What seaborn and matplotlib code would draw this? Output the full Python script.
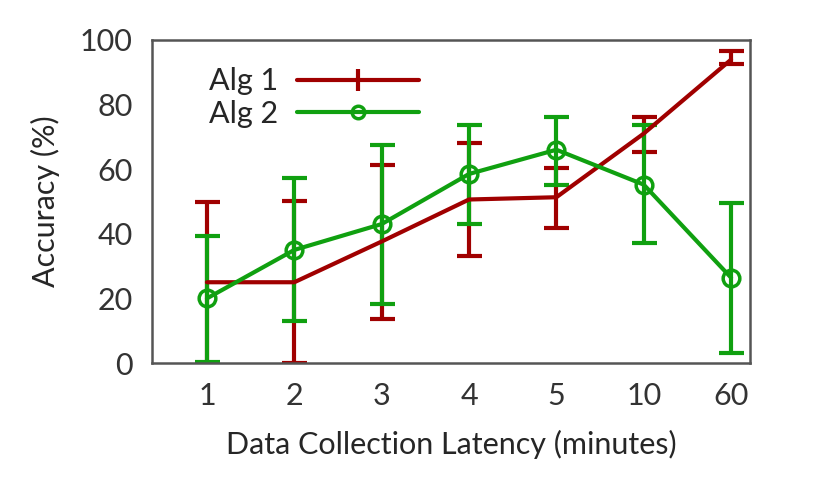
import matplotlib
matplotlib.use("Agg")
import matplotlib.pyplot as plt
from matplotlib.lines import Line2D
import numpy as np
import pandas as pd
import seaborn as sns

latency = ["1", "2", "3", "4", "5", "10", "60"]
alg1 = [25, 25, 37.6, 50.6, 51.3, 71, 93.9]
alg1_lo = [0, 0, 13.5, 33.2, 41.7, 65.2, 92.4]
alg1_hi = [49.9, 50, 61.3, 68.2, 60.5, 76.2, 96.5]
alg2 = [20, 35, 43, 58.5, 66, 55.2, 26.4]
alg2_lo = [0.3, 13, 18.4, 43.1, 55.2, 37, 3.1]
alg2_hi = [39.2, 57.3, 67.5, 73.6, 76.2, 73.8, 49.6]

RED = "#a00000"
GREEN = "#10a010"

sns.set_theme(style="white")
plt.rcParams["font.family"] = ["Lato", "DejaVu Sans"]

fig = plt.figure(figsize=(8.3, 4.98), dpi=100)
ax = fig.add_axes([0.183, 0.271, 0.721, 0.649])

pos = np.arange(len(latency))
df = pd.DataFrame({"x": np.concatenate([pos, pos]),
                   "y": alg1 + alg2,
                   "alg": ["Alg 1"] * 7 + ["Alg 2"] * 7})

for name, y, lo, hi, col in [("Alg 1", alg1, alg1_lo, alg1_hi, RED),
                             ("Alg 2", alg2, alg2_lo, alg2_hi, GREEN)]:
    y = np.array(y)
    err = [y - np.array(lo), np.array(hi) - y]
    ax.errorbar(pos, y, yerr=err, fmt="none", ecolor=col, elinewidth=3,
                capsize=9, capthick=3, zorder=2)

sns.lineplot(data=df[df.alg == "Alg 1"], x="x", y="y", color=RED, lw=3,
             ax=ax, legend=False, zorder=3)
sns.lineplot(data=df[df.alg == "Alg 2"], x="x", y="y", color=GREEN, lw=3,
             marker="o", markersize=12, markerfacecolor="none",
             markeredgecolor=GREEN, markeredgewidth=2.5, ax=ax,
             legend=False, zorder=4)

ax.set_xlim(-0.63, 6.22)
ax.set_ylim(0, 100)
ax.set_xticks(pos)
ax.set_xticklabels(latency)
ax.set_yticks([0, 20, 40, 60, 80, 100])
ax.tick_params(axis="both", direction="in", length=8, width=1.5,
               color="#555555", labelsize=22, labelcolor="#333333", pad=14)
for s in ax.spines.values():
    s.set_color("#555555")
    s.set_linewidth(1.8)
ax.set_xlabel("Data Collection Latency (minutes)", fontsize=22, labelpad=14)
ax.set_ylabel("Accuracy (%)", fontsize=22, labelpad=14)

handles = [Line2D([], [], color=RED, lw=3, marker="|", markersize=16,
                  markeredgewidth=3),
           Line2D([], [], color=GREEN, lw=3, marker="o", markersize=9,
                  markerfacecolor="none", markeredgewidth=2.5)]
ax.legend(handles, ["Alg 1", "Alg 2"], loc="upper left", frameon=False,
          fontsize=22, markerfirst=False, handlelength=4.0,
          borderaxespad=0.5, labelspacing=0.15, handletextpad=0.6,
          bbox_to_anchor=(0.05, 1.0))

fig.savefig("out.png", dpi=100)
